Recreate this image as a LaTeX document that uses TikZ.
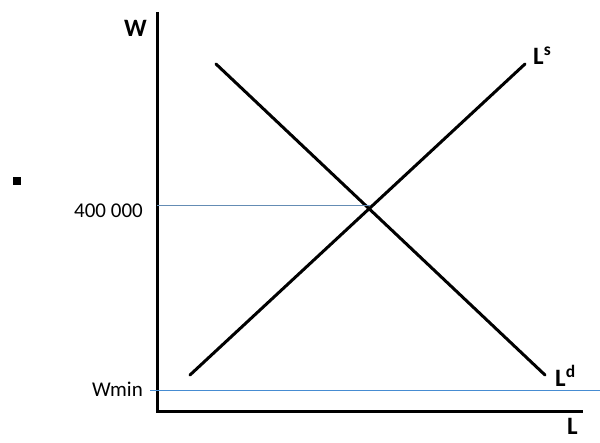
\documentclass[tikz,border=0pt]{standalone}
\usepackage{fontspec}
\setmainfont{Carlito}
\definecolor{guide}{RGB}{70,140,210}
\definecolor{guidegray}{RGB}{100,140,180}
\begin{document}
\begin{tikzpicture}[x=1pt,y=-1pt,
  curve/.style={line width=3pt,line cap=round},
  axisline/.style={line width=3pt},
  guideline/.style={guide,line width=0.9pt},
  biglabel/.style={inner sep=0pt,font=\fontsize{25}{25}\selectfont\bfseries},
  ticklabel/.style={inner sep=0pt,font=\fontsize{21}{21}\selectfont},
  bulletbox/.style={fill=black,inner sep=0pt,minimum size=8pt}]
\useasboundingbox (0,0) rectangle (600,443);
% axes
\coordinate (top) at (157,12);
\coordinate (origin) at (157,412);
\coordinate (right) at (583,412);
\draw[axisline] (top) -- (origin) -- (right);
% curves
\coordinate (s1) at (190,375);
\coordinate (s2) at (525,64);
\coordinate (d1) at (216,64);
\coordinate (d2) at (545,375);
\draw[curve] (s1) -- (s2);
\draw[curve] (d1) -- (d2);
% guides
\coordinate (g1a) at (157,205);
\coordinate (g1b) at (370,205);
\draw[guideline,guidegray] (g1a) -- (g1b);
\coordinate (g2a) at (150,390.5);
\coordinate (g2b) at (600,390.5);
\draw[guideline] (g2a) -- (g2b);
% labels
\node[biglabel,anchor=base west] (W) at (124,37) {W};
\node[biglabel,anchor=base west] (Ls) at (533,65) {L\textsuperscript{s}};
\node[biglabel,anchor=base west] (Ld) at (555,387) {L\textsuperscript{d}};
\node[biglabel,anchor=base west] (L) at (567,435) {L};
\node[ticklabel,anchor=base east] (w400) at (143,218) {400 000};
\node[ticklabel,anchor=base east] (wmin) at (143,397) {Wmin};
\node[bulletbox] (bullet) at (17,181) {};
\end{tikzpicture}
\end{document}
